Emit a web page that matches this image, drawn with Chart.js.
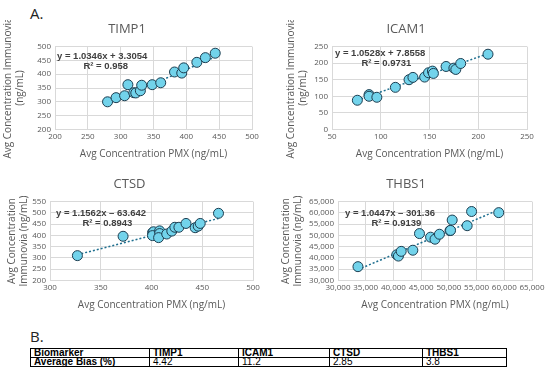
<!DOCTYPE html>
<html lang="en">
<head>
    <meta charset="UTF-8">
    <title>PMX vs Immunovia concentrations</title>
    <style>
        body {
            margin: 0;
            background-color: #ffffff;
            font-family: "Open Sans", Arial, sans-serif;
        }
        .page {
            position: relative;
            width: 550px;
            height: 384px;
            overflow: hidden;
        }
        .box {
            position: absolute;
        }
        .label {
            position: absolute;
            font-family: "Open Sans", Arial, sans-serif;
            font-size: 15px;
            color: #222;
        }
        .eq {
            position: absolute;
            font-family: "Liberation Sans", Arial, sans-serif;
            font-size: 9.5px;
            font-weight: bold;
            color: #404040;
            line-height: 10px;
            white-space: nowrap;
        }
        table {
            position: absolute;
            left: 30px;
            top: 348px;
            width: 477px;
            table-layout: fixed;
            border-collapse: collapse;
            font-family: "Liberation Sans", Arial, sans-serif;
            font-size: 10px;
            color: #000;
        }
        td {
            border: 1px solid #000;
            padding: 0 3px;
            height: 8px;
            line-height: 8px;
            overflow: visible;
            white-space: nowrap;
        }
        tr:first-child td, td:first-child {
            font-weight: bold;
        }
    </style>
</head>
<body>
<div class="page">
    <div class="label" style="left:30px; top:3px;">A.</div>
    <div class="label" style="left:30px; top:326px;">B.</div>

    <div class="box" style="left:0; top:20px; width:275px; height:150px;"><canvas id="timp1"></canvas></div>
    <div class="box" style="left:275px; top:20px; width:275px; height:150px;"><canvas id="icam1"></canvas></div>
    <div class="box" style="left:0; top:175px; width:275px; height:146px;"><canvas id="ctsd"></canvas></div>
    <div class="box" style="left:275px; top:175px; width:275px; height:146px;"><canvas id="thbs1"></canvas></div>

    <div class="eq" style="left:57px; top:51px;">y = 1.0346x + 3.3054<br>&nbsp;&nbsp;&nbsp;&nbsp;&nbsp;&nbsp;&nbsp;&nbsp;&nbsp;&nbsp;R² = 0.958</div>
    <div class="eq" style="left:335px; top:48px;">y = 1.0528x + 7.8558<br>&nbsp;&nbsp;&nbsp;&nbsp;&nbsp;&nbsp;&nbsp;&nbsp;&nbsp;&nbsp;R² = 0.9731</div>
    <div class="eq" style="left:56px; top:208px;">y = 1.1562x – 63.642<br>&nbsp;&nbsp;&nbsp;&nbsp;&nbsp;&nbsp;&nbsp;&nbsp;&nbsp;&nbsp;R² = 0.8943</div>
    <div class="eq" style="left:345px; top:208px;">y = 1.0447x – 301.36<br>&nbsp;&nbsp;&nbsp;&nbsp;&nbsp;&nbsp;&nbsp;&nbsp;&nbsp;&nbsp;R² = 0.9139</div>

    <table>
        <tr><td style="width:112px">Biomarker</td><td style="width:82px">TIMP1</td><td style="width:84px">ICAM1</td><td style="width:86px">CTSD</td><td>THBS1</td></tr>
        <tr><td>Average Bias (%)</td><td id="b0"></td><td id="b1"></td><td id="b2"></td><td id="b3"></td></tr>
    </table>
</div>

<script src="https://cdn.jsdelivr.net/npm/chart.js"></script>
<script>
    // values (x = PMX, y = Immunovia)
    const timp1X = [280, 293, 306, 311, 320, 323, 330, 332, 348, 361, 382, 393, 396, 416, 429, 444];
    const timp1Y = [300, 315, 322, 362, 333, 332, 340, 360, 362, 369, 408, 404, 423, 443, 460, 476];

    const icam1X = [76, 88, 88, 96, 115, 129, 133, 145, 149, 153, 154, 167, 175, 177, 182, 210];
    const icam1Y = [88, 105, 100, 97, 127, 150, 157, 158, 171, 176, 169, 190, 185, 181, 199, 227];

    const ctsdX = [327, 372, 401, 402, 401, 408, 408, 407, 415, 420, 423, 427, 434, 443, 446, 448, 466];
    const ctsdY = [310, 396, 412, 416, 399, 420, 408, 390, 406, 419, 436, 436, 453, 434, 441, 453, 498];

    const thbs1X = [33600, 40600, 40900, 41400, 43500, 44700, 46700, 47500, 48300, 50200, 50300, 50600, 53300, 54100, 59000];
    const thbs1Y = [36100, 41400, 40800, 42900, 43400, 50800, 49200, 48300, 50500, 52100, 52200, 56800, 54300, 60600, 60100];

    // Excel linear trendlines
    const slopes = [1.0346, 1.0528, 1.1562, 1.0447];
    const intercepts = [3.3054, 7.8558, -63.642, -301.36];

    // Average bias table
    const biomarkers = ['TIMP1', 'ICAM1', 'CTSD', 'THBS1'];
    const avgBias = ['4.42', '11.2', '2.85', '3.8'];

    avgBias.forEach((v, i) => { document.getElementById('b' + i).textContent = v; });

    const greyText = '#595959';
    const gridColor = '#d9d9d9';

    function makeChart(id, title, xs, ys, k, xr, yr, yTitle, padLeft, yWidth, padRight, thousands) {
        const pts = xs.map((x, i) => ({ x: x, y: ys[i] }));
        const x0 = Math.min(...xs), x1 = Math.max(...xs);
        const trend = [
            { x: x0, y: slopes[k] * x0 + intercepts[k] },
            { x: x1, y: slopes[k] * x1 + intercepts[k] }
        ];
        const fmt = v => thousands ? v.toLocaleString('en-US') : v;
        return new Chart(document.getElementById(id), {
            type: 'scatter',
            data: {
                datasets: [{
                    data: trend,
                    showLine: true,
                    borderColor: '#1f6f8f',
                    borderWidth: 1.5,
                    borderDash: [2, 2],
                    pointRadius: 0,
                    order: 2
                }, {
                    data: pts,
                    backgroundColor: '#72d3eb',
                    borderColor: '#1c3d50',
                    borderWidth: 1,
                    pointRadius: 5,
                    order: 1
                }]
            },
            options: {
                responsive: true,
                maintainAspectRatio: false,
                animation: false,
                layout: { padding: { left: padLeft, right: padRight, top: 0, bottom: 10 } },
                plugins: {
                    legend: { display: false },
                    tooltip: { enabled: false },
                    title: {
                        display: true,
                        text: title,
                        color: greyText,
                        font: { family: 'Open Sans', size: 13, weight: 'normal' },
                        padding: { top: 1, bottom: 10 }
                    }
                },
                scales: {
                    x: {
                        type: 'linear',
                        min: xr[0], max: xr[1],
                        ticks: { stepSize: xr[2], autoSkip: false, maxRotation: 0, color: greyText, font: { family: 'Open Sans', size: 8 }, padding: 3, callback: fmt },
                        grid: { color: gridColor, drawTicks: false },
                        border: { color: gridColor },
                        title: { display: true, text: 'Avg Concentration PMX (ng/mL)', color: greyText, font: { family: 'Open Sans', size: 10 }, padding: { top: 3, bottom: 0 } }
                    },
                    y: {
                        type: 'linear',
                        min: yr[0], max: yr[1],
                        afterFit: s => { s.width = yWidth; },
                        ticks: { stepSize: yr[2], autoSkip: false, color: greyText, font: { family: 'Open Sans', size: 8 }, padding: 4, callback: fmt },
                        grid: { color: gridColor, drawTicks: false },
                        border: { color: gridColor },
                        title: { display: true, text: yTitle, color: greyText, font: { family: 'Open Sans', size: 10 }, padding: 0 }
                    }
                }
            }
        });
    }

    const yTop = ['Avg Concentration Immunovia', '(ng/mL)'];
    const yBottom = ['Avg Concentration', 'Immunovia (ng/mL)'];

    makeChart('timp1', 'TIMP1', timp1X, timp1Y, 0, [200, 500, 50], [200, 500, 50], yTop, 2, 53, 23, false);
    makeChart('icam1', 'ICAM1', icam1X, icam1Y, 1, [50, 250, 50], [0, 250, 50], yTop, 10, 47, 23, false);
    makeChart('ctsd', 'CTSD', ctsdX, ctsdY, 2, [300, 500, 50], [200, 550, 50], yBottom, 6, 44, 22, false);
    makeChart('thbs1', 'THBS1', thbs1X, thbs1Y, 3, [30000, 65000, 5000], [30000, 65000, 5000], yBottom, 5, 58, 18, true);
</script>
</body>
</html>
